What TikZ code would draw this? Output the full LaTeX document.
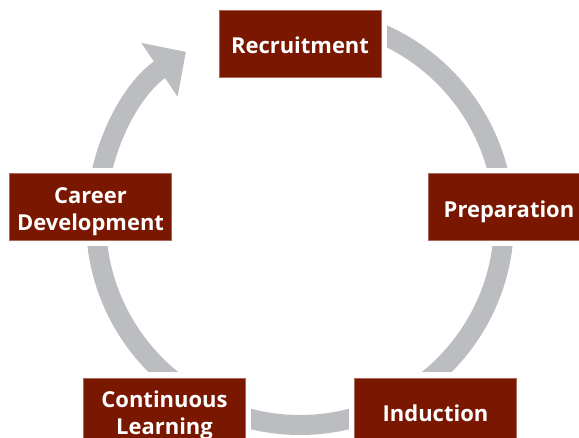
\documentclass[tikz,border=0pt]{standalone}
\usepackage{fontspec}
\setmainfont{Open Sans}
\usetikzlibrary{arrows.meta}
\definecolor{stagered}{RGB}{122,23,0}
\definecolor{cyclegray}{RGB}{188,189,192}

\begin{document}
\begin{tikzpicture}[x=0.02cm, y=-0.02cm,
  stage/.style={fill=stagered, draw=stagered!65!white, line width=0.4pt, text=white,
    minimum width=3.24cm, minimum height=1.34cm, inner sep=1pt, align=center,
    font={\fontsize{12.5}{15.2}\selectfont\bfseries}, text height=11.9pt, text depth=0pt,
    preaction={draw=white, line width=0.24cm}},
  twoline/.style={stage, text height=26.4pt, text depth=0pt},
  cycle/.style={draw=cyclegray, line width=0.4cm}]

\useasboundingbox (0,0) rectangle (579,438);
\clip (0,0) rectangle (579,438);

\coordinate (hub) at (300,221);

% the grey ring, ending in the arrow head
\draw [cycle, -{Triangle[width=1.26cm, length=0.64cm]}]
  (hub) ++(270:204) arc [start angle=270, end angle=596, radius=204];

\node [stage] (recruit) at (300,43.5) {Recruitment};

\node [stage] (prep) at (509,207) {Preparation};

\node [stage] (induct) at (435.5,411.5) {Induction};

\node [twoline] (learn) at (164.5,411.5) {Continuous\\Learning};

\node [twoline] (career) at (90.5,207) {Career\\Development};

\end{tikzpicture}
\end{document}
